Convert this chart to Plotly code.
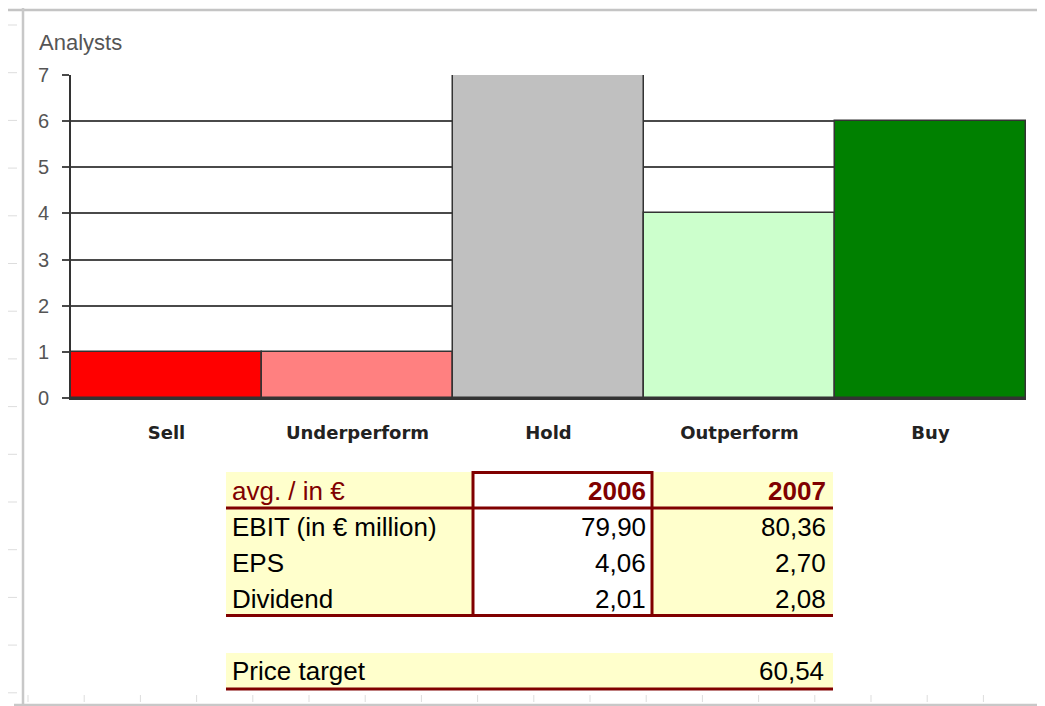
import plotly.graph_objects as go

# ---------------- data ----------------
categories = ["Sell", "Underperform", "Hold", "Outperform", "Buy"]
analysts = [1, 1, 7, 4, 6]
bar_colors = ["#FF0000", "#FF8080", "#C0C0C0", "#CCFFCC", "#008000"]
y_tick_values = [0, 1, 2, 3, 4, 5, 6, 7]
y_axis_title = "Analysts"

table_header = ["avg. / in €", "2006", "2007"]
row_labels = ["EBIT (in € million)", "EPS", "Dividend"]
values_2006 = ["79,90", "4,06", "2,01"]
values_2007 = ["80,36", "2,70", "2,08"]
price_target_label = "Price target"
price_target_value = "60,54"

# ---------------- geometry helpers ----------------
# the page body has an 8px margin, so the figure starts at (8, 8) in the window
OFF = 8
WIN_W, WIN_H = 1045, 706
W, H = WIN_W - OFF, WIN_H - OFF
# plot area in window pixels: x 71..1026, y 75..398
L = 71 - OFF
T = 75 - OFF
R = WIN_W - 1026
B = WIN_H - 398
PW = W - L - R
PH = H - T - B


def px(x):
    # window pixel -> paper
    return (x - OFF - L) / PW


def py(y):
    return (H - B - (y - OFF)) / PH


DARKRED = "#800000"
YELLOW = "#FFFFCC"
FONT = "Liberation Sans, Arial, sans-serif"

fig = go.Figure()
fig.add_trace(
    go.Bar(
        x=categories,
        y=analysts,
        marker=dict(color=bar_colors, line=dict(color="#333333", width=1.5)),
        showlegend=False,
        hoverinfo="x+y",
    )
)

shapes = []
annotations = []


def rect(x0, y0, x1, y1, fill):
    shapes.append(dict(type="rect", xref="paper", yref="paper",
                       x0=px(x0), x1=px(x1), y0=py(y0), y1=py(y1),
                       fillcolor=fill, line=dict(width=0), layer="below"))


def line(x0, y0, x1, y1, color, width, dash="solid"):
    shapes.append(dict(type="line", xref="paper", yref="paper",
                       x0=px(x0), x1=px(x1), y0=py(y0), y1=py(y1),
                       line=dict(color=color, width=width, dash=dash)))


# ---------- spreadsheet-like background ----------
for k in range(15):
    yy = 25 + 47.7 * k
    line(8, yy, 20, yy, "#DDDDDD", 1, "dash")
for k in range(19):
    xx = 28 + 56.2 * k
    line(xx, 695, xx, 702, "#DDDDDD", 1)
line(8, 10, WIN_W, 10, "#C4C4C4", 2.5)
line(23, 8, 23, WIN_H, "#C8C8C8", 2.5)
line(1041, 8, 1041, WIN_H, "#D0D0D0", 1.5)
line(14, 705, WIN_W, 705, "#C8C8C8", 2.5)

# ---------- table ----------
col_x = [226, 472, 653, 833]
row_y = [472, 508, 544, 580, 616]
rect(col_x[0], row_y[0], col_x[1], row_y[-1], YELLOW)
rect(col_x[2], row_y[0], col_x[3], row_y[-1], YELLOW)
rect(col_x[0], 653, col_x[3], 689, YELLOW)

# borders
line(col_x[0], 508, col_x[3], 508, DARKRED, 3)
line(col_x[0], 615.5, col_x[3], 615.5, DARKRED, 3)
line(col_x[0], 689, col_x[3], 689, DARKRED, 3)
line(473, 472.5, 652, 472.5, DARKRED, 3)
line(473, 471, 473, 615.5, DARKRED, 3)
line(652, 471, 652, 615.5, DARKRED, 3)

TFS = 26
text_left = 230
right_2006 = 648
right_2007 = 828
header_y = 491
row_centers = [527, 563, 599]


def ann(text, x, y, anchor, color="#000000", bold=False, size=TFS, family=FONT):
    annotations.append(dict(
        text=("<b>%s</b>" % text) if bold else text,
        xref="paper", yref="paper", x=px(x), y=py(y),
        xanchor=anchor, yanchor="middle", showarrow=False,
        font=dict(family=family, size=size, color=color)))


ann(table_header[0], text_left, header_y, "left", DARKRED)
ann(table_header[1], right_2006, header_y, "right", DARKRED, bold=True)
ann(table_header[2], right_2007, header_y, "right", DARKRED, bold=True)
for lab, v6, v7, yc in zip(row_labels, values_2006, values_2007, row_centers):
    ann(lab, text_left, yc, "left")
    ann(v6, right_2006, yc, "right")
    ann(v7, right_2007, yc, "right")
ann(price_target_label, text_left, 671, "left")
ann(price_target_value, 826, 671, "right")

# axis title "Analysts"
ann(y_axis_title, 37, 43, "left", "#555555", size=22)

fig.update_layout(
    width=W, height=H, autosize=False,
    margin=dict(l=L, r=R, t=T, b=B, pad=0),
    paper_bgcolor="white", plot_bgcolor="white",
    bargap=0,
    shapes=shapes,
    annotations=annotations,
    xaxis=dict(
        type="category", range=[-0.5, 4.5],
        showline=True, linecolor="#333333", linewidth=2,
        ticks="", showgrid=False, zeroline=False,
        tickfont=dict(family="DejaVu Sans, sans-serif", size=18,
                      color="#222222", weight="bold"),
        ticklabelstandoff=17,
    ),
    yaxis=dict(
        range=[0, 7], tickvals=y_tick_values,
        showgrid=True, gridcolor="#4A4A4A", gridwidth=2,
        showline=True, linecolor="#333333", linewidth=2,
        ticks="outside", ticklen=7, tickcolor="#4A4A4A", tickwidth=2,
        zeroline=False,
        tickfont=dict(family=FONT, size=20, color="#555555"),
        ticklabelstandoff=9,
    ),
)

fig.write_html("out.html")
